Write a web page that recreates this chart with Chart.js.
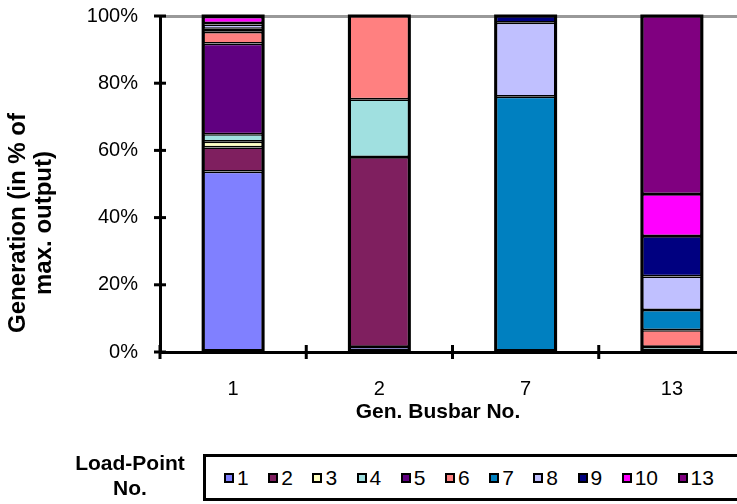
<!DOCTYPE html>
<html>
<head>
<meta charset="utf-8">
<script src="https://cdn.jsdelivr.net/npm/chart.js@4/dist/chart.umd.min.js"></script>
<style>
  html, body { margin: 0; padding: 0; background: #fff; overflow: hidden; width: 737px; height: 504px; }
  #wrap { position: relative; width: 737px; height: 504px; overflow: hidden; }
  #chart { position: absolute; left: 0; top: 0; }
  #lpTitle {
    position: absolute; left: 60px; width: 140px; top: 450px;
    font: bold 21px "Liberation Sans", Arial, sans-serif; line-height: 25px;
    text-align: center; color: #000;
  }
  #legend {
    position: absolute; left: 203px; top: 454px; width: 580px; height: 47px;
    box-sizing: border-box; border: 3px solid #000; background: #fff;
    display: flex; align-items: center; padding-left: 18px;
    font: 21px "Liberation Sans", Arial, sans-serif; color: #000;
  }
  .item { display: flex; align-items: center; margin-right: 19.5px; }
  .mark { width: 10px; height: 10px; box-sizing: border-box; border: 2px solid #000; margin-right: 3px; }
</style>
</head>
<body>
<div id="wrap">
  <canvas id="chart" width="760" height="504"></canvas>
  <div id="lpTitle">Load-Point<br>No.</div>
  <div id="legend"></div>
</div>
<script>
// generator busbars on the x axis
const busbars = ['1', '2', '7', '13'];

// load points (stack order, bottom to top) and their colours
const loadPoints = ['1', '2', '3', '4', '5', '6', '7', '8', '9', '10', '13'];
const lpColors = ['#8080FF', '#7F1F5F', '#FFFFC0', '#A0E0E0', '#600080', '#FF8080',
                  '#0080C0', '#C0C0FF', '#000080', '#FF00FF', '#800080'];

// share of generation (% of max. output) per busbar, one array per load point
const lp1  = [53.7, 1.5, null, null];
const lp2  = [7.2, 56.5, null, null];
const lp3  = [1.7, null, null, null];
const lp4  = [2.2, 17.2, null, 1.5];
const lp5  = [27.0, null, null, null];
const lp6  = [3.5, 24.8, null, 5.0];
const lp7  = [0.9, null, 76.0, 6.0];
const lp8  = [1.3, null, 22.0, 10.0];
const lp9  = [0.4, null, 2.0, 12.0];
const lp10 = [1.8, null, null, 12.5];
const lp13 = [0.3, null, null, 53.0];

const series = [lp1, lp2, lp3, lp4, lp5, lp6, lp7, lp8, lp9, lp10, lp13];
const yTicks = [0, 20, 40, 60, 80, 100];

const datasets = series.map((vals, i) => ({
  label: loadPoints[i],
  data: vals,
  backgroundColor: lpColors[i],
  borderColor: '#000',
  borderWidth: 1.6,
  borderSkipped: false,
  barPercentage: 0.41,
  categoryPercentage: 1.0
}));

// outline of each whole stack, cross shaped tick marks, axis titles
const extras = {
  id: 'extras',
  afterDatasetsDraw(chart) {
    const ctx = chart.ctx;
    ctx.save();
    ctx.strokeStyle = '#000';
    ctx.lineWidth = 3;
    busbars.forEach((b, idx) => {
      let top = Infinity, base = -Infinity, left = 0, right = 0;
      chart.getSortedVisibleDatasetMetas().forEach(meta => {
        const el = meta.data[idx];
        if (!el || series[meta.index][idx] == null) return;
        top = Math.min(top, el.y);
        base = Math.max(base, el.base);
        left = el.x - el.width / 2;
        right = el.x + el.width / 2;
      });
      if (top < Infinity) ctx.strokeRect(left, top, right - left, base - top);
    });
    ctx.restore();
  },
  afterDraw(chart) {
    const ctx = chart.ctx;
    const x = chart.scales.x, y = chart.scales.y;
    ctx.save();
    ctx.strokeStyle = '#000';
    ctx.lineWidth = 3;
    yTicks.forEach(v => {
      const py = y.getPixelForValue(v);
      ctx.beginPath();
      ctx.moveTo(x.left - 6, py);
      ctx.lineTo(x.left + 6, py);
      ctx.stroke();
    });
    const step = x.width / busbars.length;
    for (let i = 0; i <= busbars.length; i++) {
      const px = x.getPixelForValue(0) - step / 2 + i * step;
      ctx.beginPath();
      ctx.moveTo(px, y.bottom - 7);
      ctx.lineTo(px, y.bottom + 7);
      ctx.stroke();
    }

    ctx.fillStyle = '#000';
    ctx.textAlign = 'center';
    ctx.textBaseline = 'middle';
    ctx.font = 'bold 21px "Liberation Sans", Arial, sans-serif';
    ctx.fillText('Gen. Busbar No.', 438, 412);

    ctx.font = 'bold 24px "Liberation Sans", Arial, sans-serif';
    ctx.translate(18, 223);
    ctx.rotate(-Math.PI / 2);
    ctx.fillText('Generation (in % of', 0, 0);
    ctx.fillText('max. output)', 0, 26);
    ctx.restore();
  }
};

new Chart(document.getElementById('chart').getContext('2d'), {
  type: 'bar',
  data: { labels: busbars, datasets: datasets },
  options: {
    responsive: false,
    animation: false,
    layout: { padding: { top: 16, right: 15, bottom: 0, left: 0 } },
    plugins: { legend: { display: false }, tooltip: { enabled: false } },
    scales: {
      x: {
        stacked: true,
        grid: { display: false },
        border: { display: true, color: '#000', width: 3 },
        ticks: { color: '#000', padding: 17, font: { family: '"Liberation Sans", Arial', size: 20 } },
        afterFit: s => { s.height = 152; s.paddingLeft = 0; s.paddingRight = 0; }
      },
      y: {
        stacked: true,
        min: 0,
        max: 100,
        afterBuildTicks: s => { s.ticks = yTicks.map(v => ({ value: v })); },
        grid: {
          drawTicks: false,
          lineWidth: 3,
          color: c => (c.tick && c.tick.value === 100 ? '#999999' : 'rgba(0,0,0,0)')
        },
        border: { display: true, color: '#000', width: 3 },
        ticks: {
          color: '#000', padding: 22,
          font: { family: '"Liberation Sans", Arial', size: 20 },
          callback: v => v + '%'
        },
        afterFit: s => { s.width = 160; s.paddingTop = 0; s.paddingBottom = 0; }
      }
    }
  },
  plugins: [extras]
});

// legend built from the same arrays
const legend = document.getElementById('legend');
loadPoints.forEach((lp, i) => {
  const item = document.createElement('div');
  item.className = 'item';
  const mark = document.createElement('span');
  mark.className = 'mark';
  mark.style.background = lpColors[i];
  item.appendChild(mark);
  item.appendChild(document.createTextNode(lp));
  legend.appendChild(item);
});
</script>
</body>
</html>
